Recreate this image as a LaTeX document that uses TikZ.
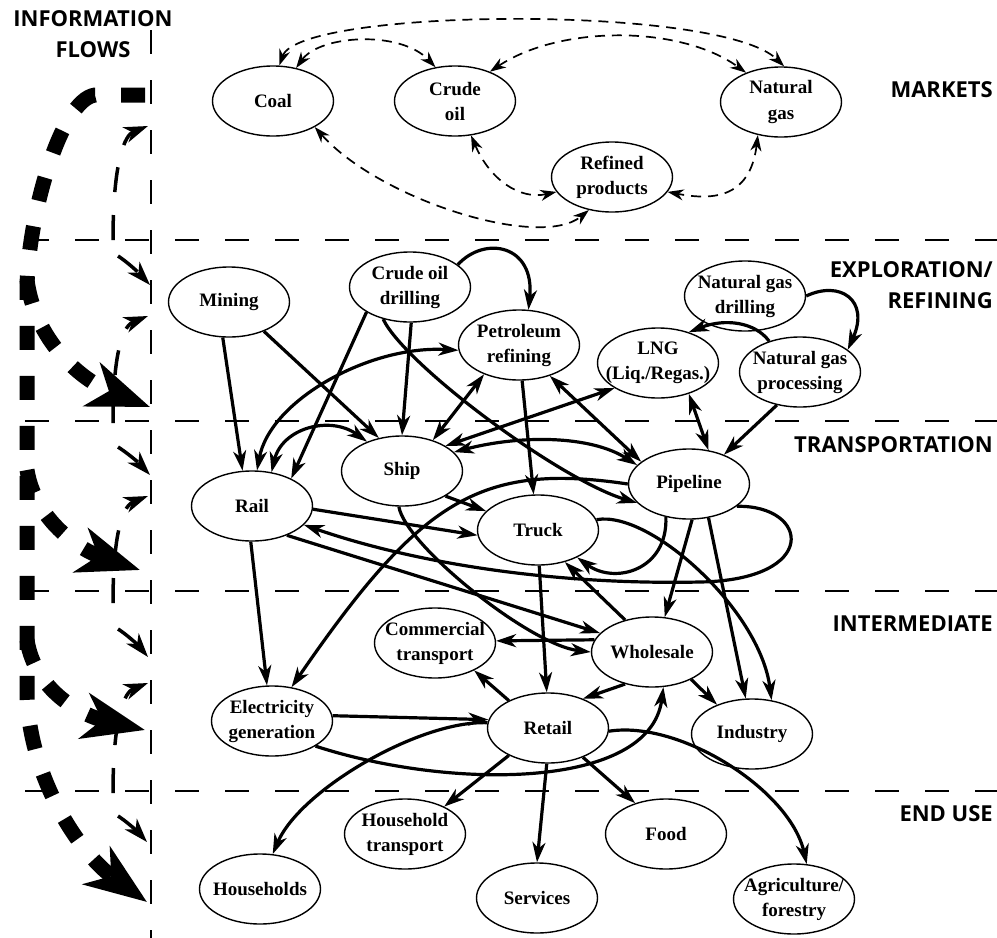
\documentclass[tikz,border=0pt]{standalone}
\usepackage{fontspec}
\setmainfont{Liberation Serif}
\newfontfamily\headfont{Open Sans}
\usepackage{tikz}
\usetikzlibrary{arrows.meta,shapes.geometric}

\begin{document}
\begin{tikzpicture}[
    x=1pt, y=-1pt,
    font=\fontsize{19}{25}\selectfont\bfseries,
    >={Stealth[length=20pt,width=13pt,inset=6pt]},
    unit/.style={ellipse, draw, line width=1.4pt, fill=white, minimum width=121pt, minimum height=70pt, inner xsep=-13pt, inner ysep=0pt, align=center},
    flow/.style={->, line width=3.2pt},
    flows/.style={<->, line width=3.2pt},
    trade/.style={{Stealth[length=16pt,width=11pt,inset=5pt]}-{Stealth[length=16pt,width=11pt,inset=5pt]}, line width=1.7pt, dash pattern=on 10pt off 7pt},
    band/.style={line width=2pt, dash pattern=on 24pt off 26pt},
    head/.style={font=\headfont\fontsize{22}{31}\selectfont\bfseries, align=right, anchor=east, inner sep=0pt},
    info/.style={-{Stealth[length=24pt,width=16pt,inset=7pt]}, line width=3.5pt, dash pattern=on 25pt off 23pt},
    bigflow/.style={-{Stealth[length=62pt,width=46pt,inset=18pt]}, line width=15pt, dash pattern=on 24pt off 26pt}
  ]
    \useasboundingbox (0,0) rectangle (997,938);

    \draw[band] (25,240) -- (997,240);
    \draw[band] (25,421) -- (997,421);
    \draw[band] (25,591) -- (997,591);
    \draw[band] (25,791) -- (997,791);
    \draw[band] (151,30) -- (151,938);

    \node[head, align=center, anchor=center] (hinfo) at (93,34) {INFORMATION\\FLOWS};
    \node[head] (hmark) at (993,90) {MARKETS};
    \node[head] (hexpl) at (993,285) {EXPLORATION/\\REFINING};
    \node[head] (htrans) at (993,445) {TRANSPORTATION};
    \node[head] (hinter) at (993,624) {INTERMEDIATE};
    \node[head] (hend) at (993,814) {END USE};

    \draw[bigflow] (145,95) -- (95,95) .. controls (60,100) and (27,220) .. (27,290) -- (27,690) .. controls (27,770) and (75,850) .. (147,902);
    \draw[bigflow] (27,280) .. controls (35,340) and (80,380) .. (150,407);
    \draw[bigflow] (27,470) .. controls (35,520) and (80,550) .. (140,570);
    \draw[bigflow] (27,640) .. controls (35,690) and (80,715) .. (145,730);

    \draw[info] (113,240) .. controls (113,160) and (125,135) .. (148,126);
    \draw[info] (118,256) .. controls (126,261) and (138,272) .. (150,285);
    \draw[info] (113,423) .. controls (113,345) and (125,325) .. (148,316);
    \draw[info] (118,447) .. controls (126,452) and (138,462) .. (150,475);
    \draw[info] (113,603) .. controls (113,525) and (125,505) .. (148,496);
    \draw[info] (118,629) .. controls (126,634) and (138,645) .. (148,657);
    \draw[info] (113,793) .. controls (113,715) and (125,692) .. (148,683);
    \draw[info] (118,816) .. controls (126,821) and (138,832) .. (147,842);

    \node[unit] (coal) at (273,101) {Coal};
    \node[unit] (crude) at (455,101) {Crude\\oil};
    \node[unit] (ngas) at (781,102) {Natural\\gas};
    \node[unit] (refined) at (612,177) {Refined\\products};
    \node[unit] (mining) at (229,302) {Mining};
    \node[unit] (drill) at (410,287) {Crude oil\\drilling};
    \node[unit] (refin) at (519,345) {Petroleum\\refining};
    \node[unit] (lng) at (658,363) {LNG\\(Liq./Regas.)};
    \node[unit] (ngdrill) at (745,296) {Natural gas\\drilling};
    \node[unit] (ngproc) at (800,372) {Natural gas\\processing};
    \node[unit] (ship) at (402,471) {Ship};
    \node[unit] (rail) at (252,506) {Rail};
    \node[unit] (truck) at (538,530) {Truck};
    \node[unit] (pipe) at (689,484) {Pipeline};
    \node[unit] (comm) at (435,643) {Commercial\\transport};
    \node[unit] (whole) at (652,652) {Wholesale};
    \node[unit] (elec) at (272,721) {Electricity\\generation};
    \node[unit] (retail) at (548,728) {Retail};
    \node[unit] (indus) at (752,734) {Industry};
    \node[unit] (hhtrans) at (405,834) {Household\\transport};
    \node[unit] (house) at (260,889) {Households};
    \node[unit] (food) at (666,834) {Food};
    \node[unit] (serv) at (537,898) {Services};
    \node[unit] (agri) at (794,899) {Agriculture/\\forestry};

    \draw[trade] (coal.80) .. controls (300,8) and (720,4) .. (ngas.85);
    \draw[trade] (coal.55) .. controls (320,35) and (400,30) .. (crude.120);
    \draw[trade] (crude.40) .. controls (560,25) and (680,25) .. (ngas.140);
    \draw[trade] (coal.-32) .. controls (380,200) and (540,250) .. (refined.-125);
    \draw[trade] (crude.-65) .. controls (490,180) and (520,200) .. (refined.-165);
    \draw[trade] (ngas.-125) .. controls (750,200) and (710,200) .. (refined.-15);

    \draw[flow] (drill.25) .. controls (485,235) and (535,245) .. (refin.75);
    \draw[flow] (ngdrill.0) .. controls (840,280) and (870,300) .. (ngproc.25);
    \draw[flow] (ngproc.135) .. controls (755,322) and (725,318) .. (lng.45);
    \draw[flow] (mining.-100) -- (rail.105);
    \draw[flow] (mining.-40) -- (ship.125);
    \draw[flow] (drill.-150) -- (rail.35);
    \draw[flow] (drill.-88) -- (ship.90);
    \draw[flow] (drill.-130) .. controls (405,365) and (560,480) .. (pipe.-160);
    \draw[flows] (rail.82) .. controls (270,400) and (370,345) .. (refin.185);
    \draw[flow] (refin.-85) -- (truck.97);
    \draw[flows] (refin.-140) -- (ship.45);
    \draw[flows] (refin.-45) -- (pipe.155);
    \draw[flows] (lng.-150) -- (ship.30);
    \draw[flows] (lng.-45) -- (pipe.60);
    \draw[flow] (ngproc.-125) -- (pipe.40);

    \draw[flows] (rail.60) .. controls (282,428) and (330,415) .. (ship.140);
    \draw[flows] (ship.20) .. controls (520,435) and (590,435) .. (pipe.160);
    \draw[flow] (rail.-3) -- (truck.185);
    \draw[flow] (pipe.-25) .. controls (810,505) and (820,580) .. (700,582) .. controls (560,585) and (420,565) .. (rail.-20);
    \draw[flow] (pipe.-125) .. controls (668,570) and (615,585) .. (truck.-35);
    \draw[flow] (ship.-30) -- (truck.160);
    \draw[flow] (ship.-95) .. controls (405,545) and (530,645) .. (whole.180);
    \draw[flow] (rail.-40) -- (whole.160);
    \draw[flow] (truck.-88) -- (retail.92);
    \draw[flow] (whole.130) -- (truck.-50);
    \draw[flow] (pipe.-85) -- (whole.70);
    \draw[flow] (pipe.-60) -- (indus.100);
    \draw[flow] (truck.10) .. controls (650,510) and (760,610) .. (indus.60);
    \draw[flow] (pipe.180) .. controls (480,462) and (420,500) .. (elec.60);

    \draw[flow] (rail.-92) -- (elec.98);
    \draw[flow] (elec.5) -- (retail.172);
    \draw[flow] (elec.-30) .. controls (450,790) and (650,790) .. (whole.-72);
    \draw[flow] (retail.175) .. controls (420,720) and (300,790) .. (house.70);
    \draw[flow] (retail.145) -- (comm.-35);
    \draw[flow] (whole.168) -- (comm.2);
    \draw[flow] (whole.-130) -- (retail.40);
    \draw[flow] (whole.-35) -- (indus.140);
    \draw[flow] (retail.-3) .. controls (680,720) and (790,790) .. (agri.70);
    \draw[flow] (retail.-145) -- (hhtrans.35);
    \draw[flow] (retail.-92) -- (serv.90);
    \draw[flow] (retail.-40) -- (food.135);
  \end{tikzpicture}
\end{document}
